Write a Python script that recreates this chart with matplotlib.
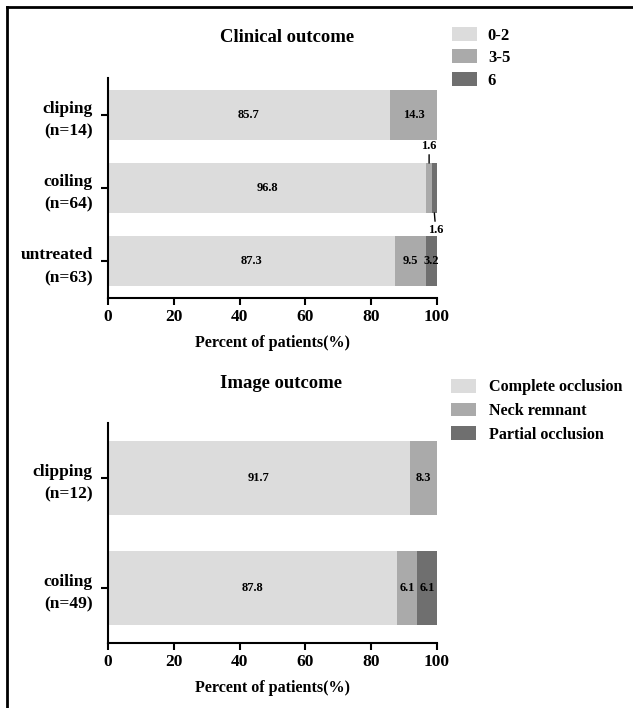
import numpy as np
import matplotlib
matplotlib.use('Agg')
import matplotlib.pyplot as plt
from matplotlib.patches import Patch
from matplotlib.lines import Line2D

plt.rcParams['font.family'] = ['Liberation Serif', 'DejaVu Serif']
plt.rcParams['font.weight'] = 'bold'

# clinical outcome (mRS groups)
clin_groups = ['cliping\n(n=14)', 'coiling\n(n=64)', 'untreated\n(n=63)']
clin_labels = ['0-2', '3-5', '6']
clin_good = [85.7, 96.8, 87.3]
clin_mid = [14.3, 1.6, 9.5]
clin_bad = [0.0, 1.6, 3.2]

# image outcome
img_groups = ['clipping\n(n=12)', 'coiling\n(n=49)']
img_labels = ['Complete occlusion', 'Neck remnant', 'Partial occlusion']
img_complete = [91.7, 87.8]
img_neck = [8.3, 6.1]
img_partial = [0.0, 6.1]

colors = ['#dcdcdc', '#aaaaaa', '#6f6f6f']
W, H = 633, 708

fig = plt.figure(figsize=(W / 100, H / 100), dpi=100)


def setup_axes(ax, groups):
    ax.set_xlim(0, 100)
    ax.set_ylim(len(groups) - 0.5, -0.5)
    ax.spines['top'].set_visible(False)
    ax.spines['right'].set_visible(False)
    ax.spines['left'].set_linewidth(1.5)
    ax.spines['bottom'].set_linewidth(1.5)
    ax.set_xticks([0, 20, 40, 60, 80, 100])
    ax.set_yticks(np.arange(len(groups)))
    ax.set_yticklabels(groups, fontsize=12.5, fontweight='bold', ha='right',
                       multialignment='right', linespacing=1.55)
    ax.tick_params(axis='y', pad=6, length=5, width=1.5)
    ax.tick_params(axis='x', labelsize=12.5, length=5, width=1.5, pad=3)
    for t in ax.get_xticklabels():
        t.set_fontweight('bold')
    ax.set_xlabel('Percent of patients(%)', fontsize=11.6, fontweight='bold', labelpad=7)


def stacked(ax, series, h):
    y = np.arange(len(series[0]))
    left = np.zeros(len(y))
    for vals, c in zip(series, colors):
        vals = np.array(vals)
        ax.barh(y, vals, left=left, height=h, color=c, edgecolor='none')
        left = left + vals
    return y


# ---- top: clinical outcome
ax1 = fig.add_axes([108 / W, 1 - 298 / H, 329 / W, 220 / H])
clin = [clin_good, clin_mid, clin_bad]
y1 = stacked(ax1, clin, 0.68)
setup_axes(ax1, clin_groups)
ax1.set_title('Clinical outcome', fontsize=13.4, fontweight='bold', pad=0, y=1.0 + 36 / 220, x=0.545)

for i in range(len(clin_groups)):
    left = 0
    for j, s in enumerate(clin):
        v = s[i]
        if v > 0:
            xc = left + v / 2
            if v >= 3:
                ax1.text(xc, y1[i], f'{v}', ha='center', va='center', fontsize=9, fontweight='bold')
            elif j == 1:
                ax1.annotate(f'{v}', xy=(xc, y1[i] - 0.34), xytext=(0, 8), textcoords='offset points',
                             ha='center', va='bottom', fontsize=9, fontweight='bold',
                             arrowprops=dict(arrowstyle='-', lw=1, color='black', shrinkA=0, shrinkB=0))
            else:
                ax1.annotate(f'{v}', xy=(xc, y1[i] + 0.34), xytext=(1, -8), textcoords='offset points',
                             ha='center', va='top', fontsize=9, fontweight='bold',
                             arrowprops=dict(arrowstyle='-', lw=1, color='black', shrinkA=0, shrinkB=0))
        left += v

h1 = [Patch(facecolor=c, edgecolor='none') for c in colors]
fig.legend(h1, clin_labels, loc='upper left', bbox_to_anchor=(452 / W, 1 - 27 / H), frameon=False,
           prop={'size': 12, 'weight': 'bold'}, handlelength=1.5, handleheight=0.9,
           handletextpad=0.65, labelspacing=0.35, borderpad=0, borderaxespad=0)

# ---- bottom: image outcome
ax2 = fig.add_axes([108 / W, 1 - 643 / H, 329 / W, 220 / H])
img = [img_complete, img_neck, img_partial]
y2 = stacked(ax2, img, 0.68)
setup_axes(ax2, img_groups)
ax2.set_title('Image outcome', fontsize=13.4, fontweight='bold', pad=0, y=1.0 + 35 / 220, x=0.526)

for i in range(len(img_groups)):
    left = 0
    for s in img:
        v = s[i]
        if v > 0:
            ax2.text(left + v / 2, y2[i], f'{v}', ha='center', va='center', fontsize=9, fontweight='bold')
        left += v

h2 = [Patch(facecolor=c, edgecolor='none') for c in colors]
fig.legend(h2, img_labels, loc='upper left', bbox_to_anchor=(451 / W, 1 - 379 / H), frameon=False,
           prop={'size': 11.6, 'weight': 'bold'}, handlelength=1.55, handleheight=0.93,
           handletextpad=0.8, labelspacing=0.45, borderpad=0, borderaxespad=0)

# frame lines (top and left edge of the cropped panel)
fig.add_artist(Line2D([7 / W, 1], [1 - 7 / H, 1 - 7 / H], color='black', lw=2, transform=fig.transFigure))
fig.add_artist(Line2D([7 / W, 7 / W], [0, 1 - 7 / H], color='black', lw=2, transform=fig.transFigure))

fig.savefig('out.png', dpi=100)
